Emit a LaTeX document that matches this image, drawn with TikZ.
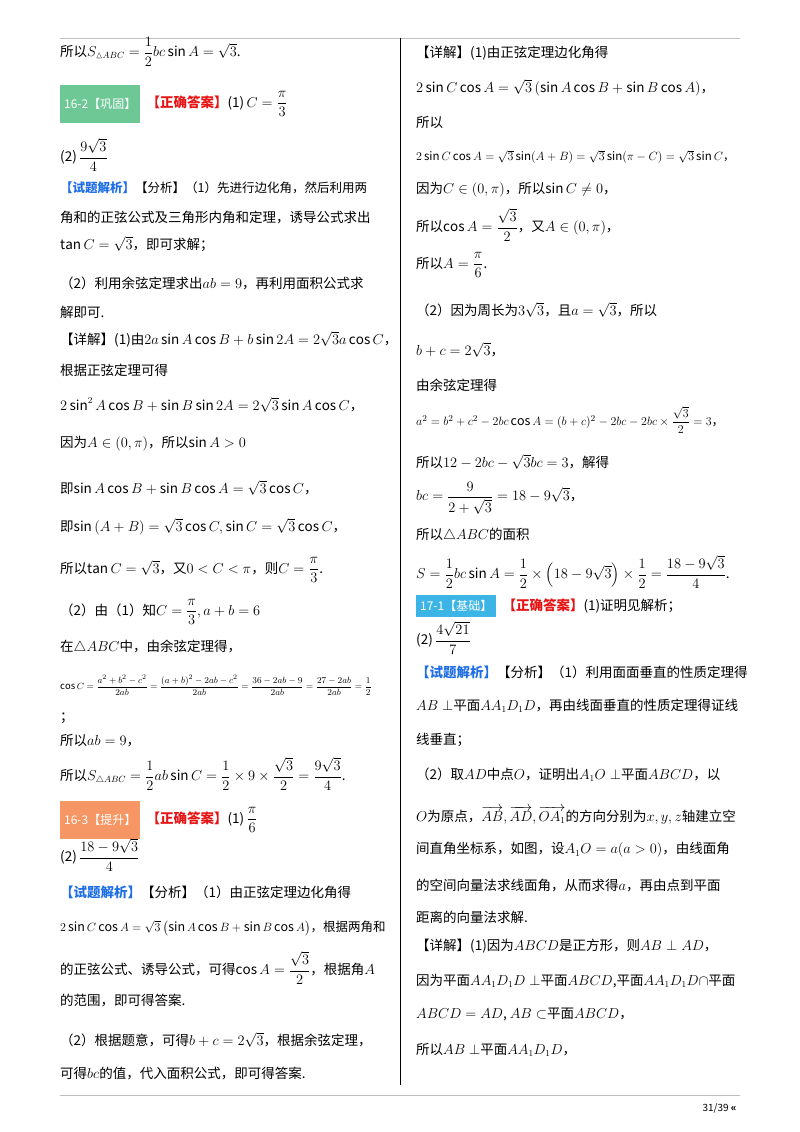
\documentclass[tikz,border=0pt]{standalone}
\usepackage{fontspec}
\usepackage{amsmath,amssymb}
\usetikzlibrary{positioning}
\setmainfont{Noto Sans CJK SC}
\definecolor{ansred}{RGB}{230,20,20}
\definecolor{anablue}{RGB}{30,110,230}
\definecolor{tagGreen}{RGB}{110,200,150}
\definecolor{tagOrange}{RGB}{245,150,100}
\definecolor{tagBlue}{RGB}{60,180,230}
\tikzset{
  txt/.style={anchor=west, inner sep=0pt, font=\fontsize{13.5}{16}\selectfont},
  tight/.style={font=\fontsize{12.5}{15}\selectfont},
  tag/.style={anchor=west, inner sep=0pt, minimum width=80pt, minimum height=38pt,
    text=white, font=\fontsize{12}{14}\selectfont},
  rule/.style={draw=gray!50, line width=0.8pt}
}
\newcommand{\ans}{\textcolor{ansred}{\textbf{【正确答案】}}}
\newcommand{\ana}{\textcolor{anablue}{\textbf{【试题解析】}}}
\begin{document}
\begin{tikzpicture}[x=1pt,y=-1pt]
  \useasboundingbox (0,0) rectangle (800,1132);
  % Page rules
  \coordinate (topL) at (60,38); \coordinate (topR) at (740,38);
  \coordinate (botL) at (60,1095); \coordinate (botR) at (740,1095);
  \coordinate (midT) at (400,38); \coordinate (midB) at (400,1085);
  \draw[rule] (topL) -- (topR);
  \draw[rule] (botL) -- (botR);
  \draw[line width=1pt] (midT) -- (midB);
  \node[anchor=east, font=\fontsize{10}{12}\selectfont] (page) at (740,1108) {31/39 \textbf{«}};

  % Left column
  \node[txt] (l1) at (60,52) {所以$S_{\vartriangle ABC}=\dfrac12 bc\sin A=\sqrt3$.};
  \node[tag, fill=tagGreen] (t1) at (60,104) {16-2【巩固】};
  \node[txt, right=6pt of t1] (l2) {\ans(1)$\,C=\dfrac{\pi}{3}$};
  \node[txt] (l3) at (60,155) {(2)$\,\dfrac{9\sqrt3}{4}$};
  \node[txt, tight] (l4) at (60,188) {\ana【分析】（1）先进行边化角，然后利用两};
  \node[txt] (l5) at (60,218) {角和的正弦公式及三角形内角和定理，诱导公式求出};
  \node[txt] (l6) at (60,244) {$\tan C=\sqrt3$，即可求解；};
  \node[txt] (l7) at (60,283) {（2）利用余弦定理求出$ab=9$，再利用面积公式求};
  \node[txt] (l8) at (60,312) {解即可.};
  \node[txt] (l9) at (60,339) {【详解】(1)由$2a\sin A\cos B+b\sin 2A=2\sqrt3a\cos C$，};
  \node[txt] (l10) at (60,370) {根据正弦定理可得};
  \node[txt] (l11) at (60,405) {$2\sin^2A\cos B+\sin B\sin 2A=2\sqrt3\sin A\cos C$，};
  \node[txt] (l12) at (60,444) {因为$A\in\left(0,\pi\right)$，所以$\sin A>0$};
  \node[txt] (l13) at (60,488) {即$\sin A\cos B+\sin B\cos A=\sqrt3\cos C$，};
  \node[txt] (l14) at (60,527) {即$\sin\left(A+B\right)=\sqrt3\cos C,\sin C=\sqrt3\cos C$，};
  \node[txt] (l15) at (60,570) {所以$\tan C=\sqrt3$，又$0<C<\pi$，则$C=\dfrac{\pi}{3}$.};
  \node[txt] (l16) at (60,612) {（2）由（1）知$C=\dfrac{\pi}{3},a+b=6$};
  \node[txt] (l17) at (60,647) {在$\triangle ABC$中，由余弦定理得，};
  \node[txt, font=\fontsize{9.5}{11}\selectfont] (l18) at (60,685)
    {$\cos C=\dfrac{a^2+b^2-c^2}{2ab}=\dfrac{(a+b)^2-2ab-c^2}{2ab}=\dfrac{36-2ab-9}{2ab}=\dfrac{27-2ab}{2ab}=\dfrac12$};
  \node[txt] (l19) at (60,718) {；};
  \node[txt] (l20) at (60,741) {所以$ab=9$，};
  \node[txt] (l21) at (60,774) {所以$S_{\triangle ABC}=\dfrac12ab\sin C=\dfrac12\times9\times\dfrac{\sqrt3}{2}=\dfrac{9\sqrt3}{4}$.};
  \node[tag, fill=tagOrange] (t2) at (60,820) {16-3【提升】};
  \node[txt, right=6pt of t2] (l22) {\ans(1)$\,\dfrac{\pi}{6}$};
  \node[txt] (l23) at (60,855) {(2)$\,\dfrac{18-9\sqrt3}{4}$};
  \node[txt] (l24) at (60,892) {\ana【分析】（1）由正弦定理边化角得};
  \node[txt, tight] (l25) at (60,928) {$2\sin C\cos A=\sqrt3\left(\sin A\cos B+\sin B\cos A\right)$，根据两角和};
  \node[txt] (l26) at (60,968) {的正弦公式、诱导公式，可得$\cos A=\dfrac{\sqrt3}{2}$，根据角$A$};
  \node[txt] (l27) at (60,1000) {的范围，即可得答案.};
  \node[txt] (l28) at (60,1040) {（2）根据题意，可得$b+c=2\sqrt3$，根据余弦定理，};
  \node[txt] (l29) at (60,1073) {可得$bc$的值，代入面积公式，即可得答案.};

  % Right column
  \node[txt] (r1) at (416,53) {【详解】(1)由正弦定理边化角得};
  \node[txt] (r2) at (416,88) {$2\sin C\cos A=\sqrt3\left(\sin A\cos B+\sin B\cos A\right)$，};
  \node[txt] (r3) at (416,122) {所以};
  \node[txt, font=\fontsize{11.5}{14}\selectfont] (r4) at (416,157) {$2\sin C\cos A=\sqrt3\sin(A+B)=\sqrt3\sin(\pi-C)=\sqrt3\sin C$，};
  \node[txt] (r5) at (416,190) {因为$C\in(0,\pi)$，所以$\sin C\neq0$，};
  \node[txt] (r6) at (416,225) {所以$\cos A=\dfrac{\sqrt3}{2}$，又$A\in(0,\pi)$，};
  \node[txt] (r7) at (416,265) {所以$A=\dfrac{\pi}{6}$.};
  \node[txt] (r8) at (416,310) {（2）因为周长为$3\sqrt3$，且$a=\sqrt3$，所以};
  \node[txt] (r9) at (416,350) {$b+c=2\sqrt3$，};
  \node[txt] (r10) at (416,385) {由余弦定理得};
  \node[txt, tight] (r11) at (416,420) {$a^2=b^2+c^2-2bc\cos A=(b+c)^2-2bc-2bc\times\dfrac{\sqrt3}{2}=3$，};
  \node[txt] (r12) at (416,462) {所以$12-2bc-\sqrt3bc=3$，解得};
  \node[txt] (r13) at (416,498) {$bc=\dfrac{9}{2+\sqrt3}=18-9\sqrt3$，};
  \node[txt] (r14) at (416,535) {所以$\triangle ABC$的面积};
  \node[txt] (r15) at (416,572) {$S=\dfrac12bc\sin A=\dfrac12\times\left(18-9\sqrt3\right)\times\dfrac12=\dfrac{18-9\sqrt3}{4}$.};
  \node[tag, fill=tagBlue, minimum height=22pt] (t3) at (416,606) {17-1【基础】};
  \node[txt, right=6pt of t3] (r16) {\ans(1)证明见解析；};
  \node[txt] (r17) at (416,638) {(2)$\,\dfrac{4\sqrt{21}}{7}$};
  \node[txt] (r18) at (416,672) {\ana【分析】（1）利用面面垂直的性质定理得};
  \node[txt] (r19) at (416,706) {$AB\perp$平面$AA_1D_1D$，再由线面垂直的性质定理得证线};
  \node[txt] (r20) at (416,740) {线垂直；};
  \node[txt] (r21) at (416,775) {（2）取$AD$中点$O$，证明出$A_1O\perp$平面$ABCD$，以};
  \node[txt] (r22) at (416,815) {$O$为原点，$\overrightarrow{AB},\overrightarrow{AD},\overrightarrow{OA_1}$的方向分别为$x,y,z$轴建立空};
  \node[txt] (r23) at (416,850) {间直角坐标系，如图，设$A_1O=a(a>0)$，由线面角};
  \node[txt] (r24) at (416,886) {的空间向量法求线面角，从而求得$a$，再由点到平面};
  \node[txt] (r25) at (416,917) {距离的向量法求解.};
  \node[txt] (r26) at (416,946) {【详解】(1)因为$ABCD$是正方形，则$AB\perp AD$，};
  \node[txt] (r27) at (416,981) {因为平面$AA_1D_1D\perp$平面$ABCD$,平面$AA_1D_1D\cap$平面};
  \node[txt] (r28) at (416,1015) {$ABCD=AD$, $AB\subset$平面$ABCD$，};
  \node[txt] (r29) at (416,1050) {所以$AB\perp$平面$AA_1D_1D$，};
\end{tikzpicture}
\end{document}
